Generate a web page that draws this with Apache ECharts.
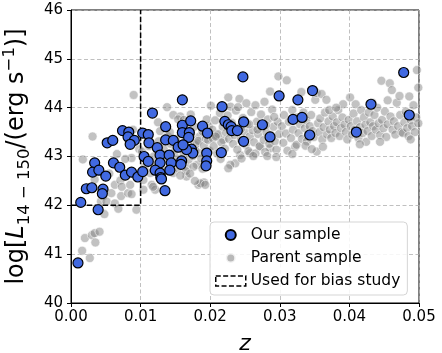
<!DOCTYPE html>
<html>
<head>
<meta charset="utf-8">
<script src="https://cdn.jsdelivr.net/npm/echarts@6/dist/echarts.min.js"></script>
<style>
  html, body { margin: 0; padding: 0; background: #fff; }
  #chart { width: 442px; height: 353px; }
</style>
</head>
<body>
<div id="chart"></div>
<script>
// [z, log L]
const ourSample = [
  [0.0010, 40.82], [0.0014, 42.06], [0.0039, 41.91], [0.0022, 42.34], [0.0030, 42.36],
  [0.0046, 42.33], [0.0045, 42.24], [0.0034, 42.87], [0.0031, 42.68], [0.0040, 42.72],
  [0.0050, 42.60], [0.0052, 43.28], [0.0060, 43.33], [0.0061, 42.87], [0.0070, 42.78],
  [0.0074, 43.53], [0.0083, 43.50], [0.0082, 43.40], [0.0091, 43.33], [0.0085, 43.25],
  [0.0078, 42.62], [0.0087, 42.68], [0.0096, 42.58], [0.0103, 42.69], [0.0105, 43.00],
  [0.0103, 43.48], [0.0111, 43.45], [0.0112, 43.28], [0.0111, 42.90], [0.0117, 43.89],
  [0.0124, 43.18], [0.0128, 43.03], [0.0141, 43.03], [0.0128, 42.87], [0.0144, 42.87],
  [0.0121, 42.72], [0.0128, 42.66], [0.0142, 42.72], [0.0129, 42.57], [0.0135, 42.30],
  [0.0136, 43.61], [0.0136, 43.34], [0.0147, 43.33], [0.0154, 43.19], [0.0160, 44.16],
  [0.0160, 43.64], [0.0160, 43.49], [0.0170, 43.49], [0.0169, 43.39], [0.0172, 43.73],
  [0.0173, 43.15], [0.0175, 43.07], [0.0166, 43.14], [0.0161, 43.24], [0.0159, 42.91],
  [0.0158, 42.84], [0.0189, 43.62], [0.0196, 43.48], [0.0195, 43.07], [0.0195, 42.91],
  [0.0194, 42.81], [0.0216, 43.08], [0.0217, 44.02], [0.0221, 43.72], [0.0226, 43.65],
  [0.0230, 43.61], [0.0231, 43.53], [0.0239, 43.53], [0.0248, 43.71], [0.0248, 43.31],
  [0.0247, 44.63], [0.0275, 43.65], [0.0286, 43.40], [0.0299, 44.24], [0.0319, 43.76],
  [0.0326, 44.16], [0.0332, 43.80], [0.0343, 43.44], [0.0347, 44.35], [0.0410, 43.50],
  [0.0431, 44.07], [0.0478, 44.72], [0.0486, 43.85], [0.0130, 42.54]
];

const parentSample = [
  [0.0016, 41.07], [0.0027, 40.92], [0.0020, 41.33], [0.0030, 41.39], [0.0034, 41.43],
  [0.0041, 41.46], [0.0035, 41.24], [0.0048, 41.82], [0.0043, 42.08], [0.0046, 42.18],
  [0.0017, 42.94], [0.0031, 43.41], [0.0034, 42.53], [0.0051, 42.08], [0.0058, 42.25],
  [0.0063, 42.04], [0.0063, 42.42], [0.0068, 41.93], [0.0071, 42.51], [0.0072, 42.19],
  [0.0073, 42.38], [0.0082, 42.25], [0.0085, 42.42], [0.0087, 42.23], [0.0087, 42.97],
  [0.0090, 44.26], [0.0094, 41.91], [0.0055, 42.65], [0.0078, 42.95], [0.0093, 42.62],
  [0.0066, 43.05], [0.0098, 43.15], [0.0089, 43.55],
  [0.0106, 42.79], [0.0114, 42.66], [0.0104, 42.52], [0.0116, 42.42], [0.0121, 42.32],
  [0.0104, 42.32], [0.0118, 42.38], [0.0147, 42.66], [0.0154, 42.76], [0.0166, 42.79],
  [0.0181, 42.83], [0.0183, 42.42], [0.0191, 42.47], [0.0186, 42.45], [0.0147, 43.85],
  [0.0157, 43.82], [0.0138, 44.01], [0.0154, 43.76], [0.0128, 43.52], [0.0185, 43.41],
  [0.0178, 43.24], [0.0128, 43.07], [0.0185, 43.07], [0.0181, 43.27], [0.0176, 42.79],
  [0.0166, 42.59], [0.0193, 42.42], [0.0102, 43.10], [0.0108, 42.95], [0.0112, 43.21],
  [0.0119, 43.00], [0.0124, 42.86], [0.0126, 43.31], [0.0131, 42.92], [0.0133, 43.16],
  [0.0136, 42.71], [0.0139, 43.42], [0.0141, 43.01], [0.0143, 43.26], [0.0145, 42.84],
  [0.0149, 43.11], [0.0151, 43.36], [0.0153, 42.96], [0.0156, 43.22], [0.0158, 43.46],
  [0.0160, 42.86], [0.0162, 43.05], [0.0164, 43.31], [0.0167, 43.56], [0.0169, 42.94],
  [0.0171, 43.16], [0.0173, 43.41], [0.0175, 43.01], [0.0177, 43.61], [0.0179, 43.12],
  [0.0183, 43.32], [0.0187, 42.96], [0.0189, 43.51], [0.0191, 43.22], [0.0194, 43.36],
  [0.0196, 42.91], [0.0198, 43.62], [0.0199, 43.12], [0.0135, 43.61], [0.0125, 43.70],
  [0.0162, 43.75], [0.0172, 43.86], [0.0195, 43.76], [0.0110, 43.45], [0.0142, 43.50],
  [0.0165, 42.70], [0.0157, 42.61], [0.0189, 42.75], [0.0171, 42.65], [0.0130, 42.55],
  [0.0178, 42.50],
  [0.0201, 44.04], [0.0229, 44.02], [0.0242, 44.18], [0.0252, 44.09], [0.0286, 44.33],
  [0.0298, 44.64], [0.0219, 43.34], [0.0209, 43.44], [0.0236, 42.86], [0.0229, 42.83],
  [0.0286, 43.17], [0.0272, 43.20], [0.0257, 43.07], [0.0243, 43.03], [0.0197, 43.34],
  [0.0204, 43.37], [0.0203, 43.55], [0.0205, 43.21], [0.0207, 43.74], [0.0210, 43.06],
  [0.0212, 43.46], [0.0214, 43.89], [0.0216, 43.29], [0.0218, 43.61], [0.0221, 43.16],
  [0.0223, 43.49], [0.0225, 43.84], [0.0227, 43.36], [0.0231, 43.69], [0.0233, 43.26],
  [0.0235, 43.44], [0.0237, 43.94], [0.0239, 43.14], [0.0241, 43.59], [0.0244, 43.34],
  [0.0245, 42.96], [0.0247, 43.79], [0.0249, 43.51], [0.0251, 43.24], [0.0253, 43.66],
  [0.0255, 43.11], [0.0257, 43.41], [0.0259, 43.91], [0.0261, 43.54], [0.0263, 43.29],
  [0.0265, 43.06], [0.0267, 43.71], [0.0269, 43.46], [0.0271, 43.21], [0.0273, 43.86],
  [0.0275, 43.59], [0.0277, 43.34], [0.0279, 43.09], [0.0281, 43.49], [0.0283, 43.76],
  [0.0285, 43.26], [0.0287, 43.44], [0.0289, 43.96], [0.0291, 43.61], [0.0293, 43.31],
  [0.0295, 43.14], [0.0297, 43.71], [0.0299, 43.46], [0.0208, 43.41], [0.0220, 43.71],
  [0.0232, 43.52], [0.0244, 43.56], [0.0256, 43.66], [0.0268, 43.55], [0.0280, 43.64],
  [0.0292, 43.81], [0.0215, 42.95], [0.0262, 43.01], [0.0226, 44.21], [0.0265, 44.05],
  [0.0278, 44.12], [0.0240, 44.01], [0.0226, 42.76], [0.0282, 43.01], [0.0295, 42.99],
  [0.0303, 43.62], [0.0305, 43.28], [0.0306, 43.85], [0.0309, 43.47], [0.0310, 44.56],
  [0.0311, 43.12], [0.0313, 43.71], [0.0316, 43.38], [0.0318, 43.95], [0.0319, 43.55],
  [0.0322, 43.20], [0.0324, 43.24], [0.0325, 43.80], [0.0327, 43.48], [0.0329, 43.66],
  [0.0331, 44.32], [0.0332, 43.36], [0.0334, 43.90], [0.0336, 43.58], [0.0338, 43.74],
  [0.0339, 43.31], [0.0341, 43.45], [0.0343, 43.62], [0.0345, 43.85], [0.0347, 43.52],
  [0.0349, 43.40], [0.0351, 44.16], [0.0353, 44.30], [0.0353, 43.10], [0.0355, 43.68],
  [0.0357, 43.50], [0.0358, 43.78], [0.0360, 44.28], [0.0361, 43.35], [0.0363, 43.60],
  [0.0365, 43.90], [0.0367, 44.16], [0.0368, 43.45], [0.0370, 43.72], [0.0372, 43.55],
  [0.0374, 43.38], [0.0376, 43.82], [0.0378, 43.62], [0.0380, 43.48], [0.0382, 43.70],
  [0.0384, 43.95], [0.0386, 43.42], [0.0388, 43.58], [0.0390, 43.80], [0.0391, 44.07],
  [0.0393, 43.65], [0.0395, 43.50], [0.0397, 43.35], [0.0399, 43.75], [0.0337, 43.22],
  [0.0346, 43.15], [0.0362, 43.20], [0.0318, 43.05], [0.0371, 43.95], [0.0381, 44.00],
  [0.0401, 44.21], [0.0402, 43.62], [0.0404, 43.45], [0.0406, 43.88], [0.0408, 43.55],
  [0.0409, 44.07], [0.0411, 43.72], [0.0413, 43.38], [0.0415, 43.60], [0.0417, 43.95],
  [0.0419, 43.48], [0.0421, 43.80], [0.0423, 43.65], [0.0424, 43.30], [0.0426, 43.52],
  [0.0428, 43.90], [0.0430, 43.70], [0.0432, 43.42], [0.0434, 43.62], [0.0436, 43.85],
  [0.0438, 43.55], [0.0440, 44.00], [0.0442, 43.68], [0.0444, 43.44], [0.0446, 44.55],
  [0.0447, 43.75], [0.0449, 43.58], [0.0451, 43.92], [0.0453, 43.40], [0.0455, 43.66],
  [0.0458, 44.50], [0.0459, 43.82], [0.0461, 44.36], [0.0462, 43.55], [0.0464, 43.72],
  [0.0466, 43.45], [0.0468, 44.10], [0.0470, 43.62], [0.0472, 44.24], [0.0473, 43.85],
  [0.0475, 43.50], [0.0477, 43.48], [0.0479, 43.70], [0.0481, 43.92], [0.0483, 43.58],
  [0.0485, 43.42], [0.0486, 44.23], [0.0488, 43.75], [0.0490, 43.62], [0.0492, 44.05],
  [0.0494, 43.50], [0.0496, 43.80], [0.0497, 44.77], [0.0499, 44.41], [0.0499, 43.68],
  [0.0415, 43.25], [0.0433, 44.10], [0.0455, 44.15], [0.0444, 43.30], [0.0488, 43.35]
];

// corner path of the region used for the bias study
const biasBox = [[0, 42], [0.01, 42], [0.01, 46]];

const xRange = [0, 0.05];
const yRange = [40, 46];

const font = "DejaVu Sans";

const chart = echarts.init(document.getElementById("chart"));
chart.setOption({
  animation: false,
  backgroundColor: "#fff",
  grid: {
    left: 71, right: 23, top: 10, bottom: 50,
    outerBoundsMode: "none",
    show: true, borderColor: "#000", borderWidth: 1
  },
  xAxis: {
    type: "value",
    min: xRange[0], max: xRange[1], interval: 0.01,
    name: "z",
    nameLocation: "middle",
    nameGap: 30,
    nameTextStyle: { fontFamily: font, fontSize: 22, fontStyle: "italic", color: "#000" },
    axisLine: { show: true, onZero: false, lineStyle: { color: "#000", width: 1 } },
    axisTick: { show: true, length: 4, lineStyle: { color: "#000" } },
    axisLabel: {
      color: "#000", fontFamily: font, fontSize: 15, margin: 7,
      formatter: (v) => v.toFixed(2)
    },
    splitLine: { show: true, lineStyle: { color: "#b0b0b0", width: 0.8, type: [4, 2.5] } }
  },
  yAxis: {
    type: "value",
    min: yRange[0], max: yRange[1], interval: 1,
    name: "{t|log[}{i|L}{s|14 − 150}{t|/(erg s}{p|−1}{t|)]}",
    nameLocation: "middle",
    nameGap: 32,
    nameRotate: 90,
    nameTextStyle: {
      color: "#000",
      fontFamily: font,
      fontSize: 24,
      rich: {
        t: { fontFamily: font, fontSize: 24, color: "#000", lineHeight: 32 },
        i: { fontFamily: font, fontSize: 24, fontStyle: "italic", color: "#000", lineHeight: 32 },
        s: { fontFamily: font, fontSize: 16.5, color: "#000", verticalAlign: "bottom", lineHeight: 32 },
        p: { fontFamily: font, fontSize: 16.5, color: "#000", verticalAlign: "top", lineHeight: 32 }
      }
    },
    axisLine: { show: true, onZero: false, lineStyle: { color: "#000", width: 1 } },
    axisTick: { show: true, length: 4, lineStyle: { color: "#000" } },
    axisLabel: { color: "#000", fontFamily: font, fontSize: 15, margin: 8 },
    splitLine: { show: true, lineStyle: { color: "#b0b0b0", width: 0.8, type: [4, 2.5] } }
  },
  legend: {
    orient: "vertical",
    left: 210, top: 222,
    backgroundColor: "rgba(255,255,255,0.85)",
    borderColor: "#d5d5d5", borderWidth: 1, borderRadius: 4,
    padding: [5, 7, 6, 5],
    itemWidth: 30, itemHeight: 10, itemGap: 7,
    textStyle: { fontFamily: font, fontSize: 15.5, color: "#000" },
    data: [
      { name: "Our sample", icon: "circle" },
      { name: "Parent sample", icon: "circle",
        itemStyle: { color: "#a6a6a6", borderColor: "#fff", borderWidth: 3 } },
      { name: "Used for bias study", icon: "rect",
        itemStyle: { color: "rgba(0,0,0,0)", borderColor: "#000", borderWidth: 1.5, borderType: [5, 2.4] } }
    ]
  },
  series: [
    {
      name: "Parent sample",
      type: "scatter",
      data: parentSample,
      symbolSize: 9,
      itemStyle: { color: "rgba(128,128,128,0.6)", borderColor: "#fff", borderWidth: 0.7 },
      z: 2
    },
    {
      name: "Our sample",
      type: "scatter",
      data: ourSample,
      symbolSize: 10,
      itemStyle: { color: "#4169e1", borderColor: "#000", borderWidth: 1.2, opacity: 1 },
      z: 4
    },
    {
      name: "Used for bias study",
      type: "line",
      data: biasBox,
      symbol: "none",
      lineStyle: { color: "#000", width: 1.5, type: [5.5, 2.4] },
      z: 3
    }
  ]
});
</script>
</body>
</html>
